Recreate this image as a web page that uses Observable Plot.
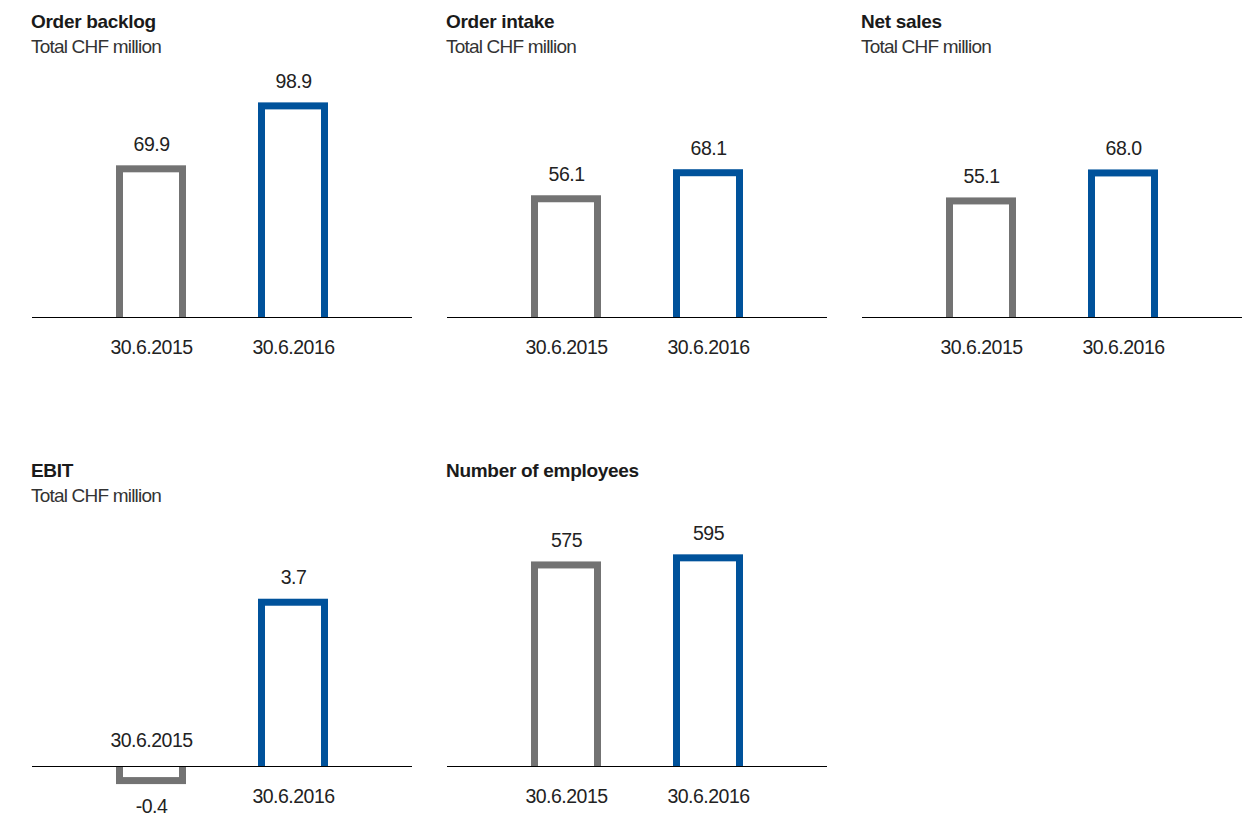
<!DOCTYPE html>
<html>
<head>
<meta charset="utf-8">
<script src="https://cdn.jsdelivr.net/npm/d3@7"></script>
<script src="https://cdn.jsdelivr.net/npm/@observablehq/plot@0.6"></script>
<style>
  body { margin: 0; background: #fff; font-family: "Liberation Sans", Arial, sans-serif; }
  #wrap { position: relative; width: 1256px; height: 816px; overflow: hidden; }
  .panel { position: absolute; width: 380px; height: 370px; }
  .title { position: absolute; left: -1px; top: 12.5px; font-weight: bold; font-size: 19px; line-height: 18px; color: #1a1a1a; white-space: nowrap; letter-spacing: -0.3px; }
  .sub { position: absolute; left: -1px; top: 38px; font-size: 19px; line-height: 18px; color: #333; white-space: nowrap; letter-spacing: -0.8px; }
  .panel svg { position: absolute; left: 0; top: 60px; letter-spacing: -0.5px; }
</style>
</head>
<body>
<div id="wrap"></div>
<script>
// ---- data ----
const dates = ["30.6.2015", "30.6.2016"];
const dateColors = ["#737373", "#00529b"];

const titles = ["Order backlog", "Order intake", "Net sales", "EBIT", "Number of employees"];
const subtitles = ["Total CHF million", "Total CHF million", "Total CHF million", "Total CHF million", ""];

const orderBacklog = [69.9, 98.9];
const orderIntake = [56.1, 68.1];
const netSales = [55.1, 68.0];
const ebit = [-0.4, 3.7];
const employees = [575, 595];

const seriesList = [orderBacklog, orderIntake, netSales, ebit, employees];
const decimals = [1, 1, 1, 1, 0];
const yMax = [100, 100, 100, 4.8, 610];

// ---- layout ----
const panelLeft = [32, 447, 862, 32, 447];
const panelTop = [0, 0, 0, 449, 449];

const wrap = document.getElementById("wrap");

function makePanel(values, dec, ymax) {
  const data = dates.map((d, i) => ({
    date: d,
    value: values[i],
    color: dateColors[i],
    label: values[i].toFixed(dec)
  }));
  const pos = data.filter(d => d.value >= 0);
  const neg = data.filter(d => d.value < 0);
  const textStyle = { fontSize: 19.5, fill: "#222", lineAnchor: "bottom" };
  return Plot.plot({
    width: 380,
    height: 310,
    marginLeft: 0,
    marginRight: 0,
    marginTop: 40,
    marginBottom: 53,
    style: { fontFamily: "'Liberation Sans', Arial, sans-serif", fontSize: "19.5px", letterSpacing: "-0.5px", background: "transparent", overflow: "visible" },
    x: { domain: dates, paddingInner: 0.508, paddingOuter: 0.589, axis: null },
    y: { domain: [0, ymax], axis: null },
    color: { type: "identity" },
    marks: [
      Plot.barY(data, { x: "date", y: "value", fill: "color", insetLeft: 0, insetRight: 0 }),
      Plot.barY(pos, { x: "date", y: "value", fill: "white", insetLeft: 7, insetRight: 7, insetTop: 7, insetBottom: 0 }),
      Plot.barY(neg, { x: "date", y: "value", fill: "white", insetLeft: 7, insetRight: 7, insetTop: 0, insetBottom: 7 }),
      Plot.ruleY([0], { stroke: "#000", strokeWidth: 1 }),
      Plot.text(pos, { x: "date", y: "value", text: "label", dy: -15, ...textStyle }),
      Plot.text(neg, { x: "date", y: "value", text: "label", dy: 28, ...textStyle }),
      Plot.text(pos, { x: "date", y: 0, text: "date", dy: 36, ...textStyle }),
      Plot.text(neg, { x: "date", y: 0, text: "date", dy: -20, ...textStyle })
    ]
  });
}

titles.forEach((t, i) => {
  const p = document.createElement("div");
  p.className = "panel";
  p.style.left = panelLeft[i] + "px";
  p.style.top = panelTop[i] + "px";
  const ti = document.createElement("div");
  ti.className = "title";
  ti.textContent = t;
  p.appendChild(ti);
  if (subtitles[i]) {
    const s = document.createElement("div");
    s.className = "sub";
    s.textContent = subtitles[i];
    p.appendChild(s);
  }
  p.appendChild(makePanel(seriesList[i], decimals[i], yMax[i]));
  wrap.appendChild(p);
});
</script>
</body>
</html>
